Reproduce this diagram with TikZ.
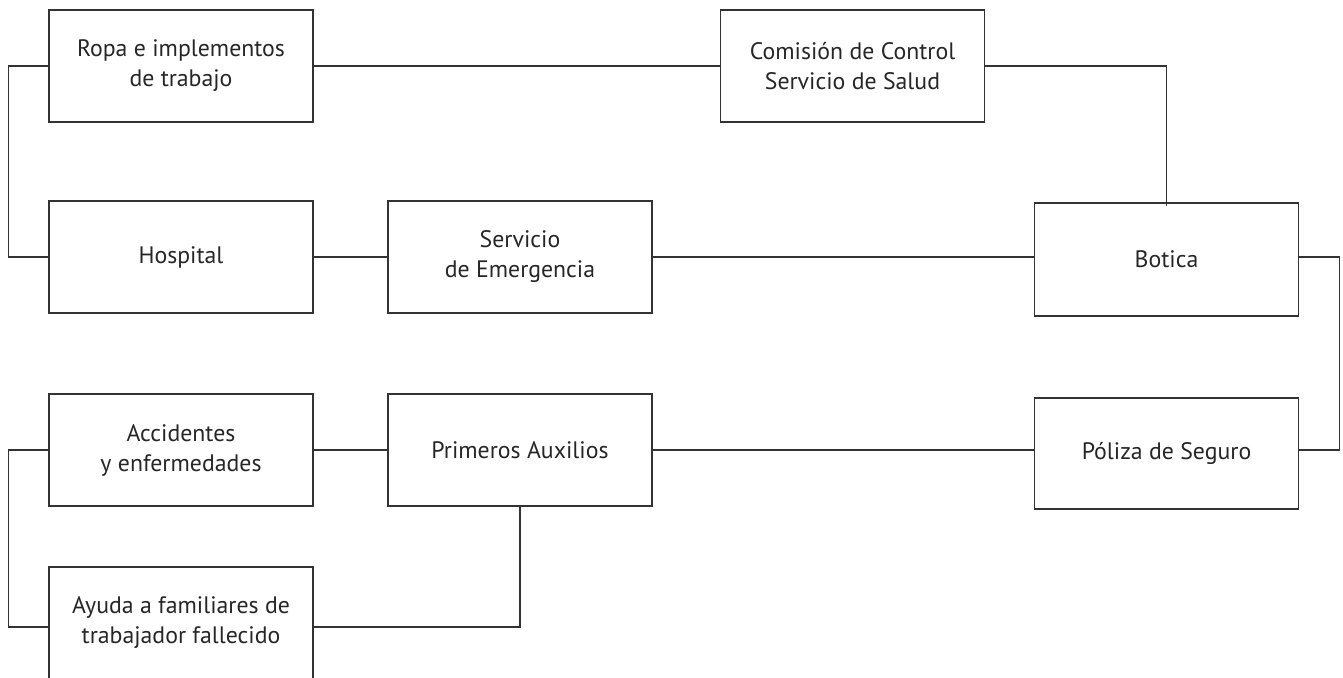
\documentclass[tikz,border=0pt]{standalone}
\usepackage{fontspec}
\setmainfont{PT Sans}
\begin{document}
\begin{tikzpicture}[x=1pt,y=-1pt,
  box/.style={draw=black!80, line width=1.2pt, rectangle, minimum width=264pt, minimum height=112pt,
    align=center, inner sep=0pt, text=black!85, font=\fontsize{23.8}{30}\selectfont},
  link/.style={draw=black!80, line width=1.2pt}]
\useasboundingbox (0,0) rectangle (1343,677);
\begin{scope}
\clip (0,0) rectangle (1343,677);
\node[box] (ropa) at (181,66) {Ropa e implementos\\de trabajo};
\node[box] (comision) at (852.5,66) {Comisión de Control\\Servicio de Salud};
\node[box] (hospital) at (181,257) {Hospital};
\node[box] (servicio) at (520,257) {Servicio\\de Emergencia};
\node[box, minimum height=113pt] (botica) at (1166.5,259.5) {Botica};
\node[box] (accid) at (181,450) {Accidentes\\y enfermedades};
\node[box] (primeros) at (520,450) {Primeros Auxilios};
\node[box, minimum height=111pt] (poliza) at (1166.5,453.5) {Póliza de Seguro};
\node[box] (ayuda) at (181,623) {Ayuda a familiares de\\trabajador fallecido};

\draw[link] (ropa.west) -- ++(-40,0) |- (hospital.west);
\draw[link] (ropa.east) -- (comision.west);
\draw[link] (comision.east) -| ([yshift=-4pt]botica.north);
\draw[link] (hospital.east) -- (servicio.west);
\draw[link] (servicio.east) -- (botica.west |- servicio.east);
\draw[link] (botica.east |- servicio.east) -- ++(40,0) |- (poliza.east |- primeros.east);
\draw[link] (accid.east) -- (primeros.west);
\draw[link] (primeros.east) -- (poliza.west |- primeros.east);
\draw[link] (accid.west) -- ++(-40,0) |- ([yshift=-4pt]ayuda.west);
\draw[link] ([yshift=-4pt]ayuda.east) -| (primeros.south);
\end{scope}
\end{tikzpicture}
\end{document}
